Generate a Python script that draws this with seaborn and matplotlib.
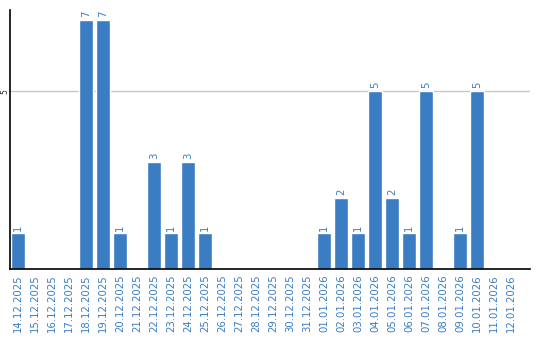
import matplotlib
matplotlib.use("Agg")
import matplotlib.pyplot as plt
import seaborn as sns
import pandas as pd

dates = ["14.12.2025", "15.12.2025", "16.12.2025", "17.12.2025", "18.12.2025",
         "19.12.2025", "20.12.2025", "21.12.2025", "22.12.2025", "23.12.2025",
         "24.12.2025", "25.12.2025", "26.12.2025", "27.12.2025", "28.12.2025",
         "29.12.2025", "30.12.2025", "31.12.2025", "01.01.2026", "02.01.2026",
         "03.01.2026", "04.01.2026", "05.01.2026", "06.01.2026", "07.01.2026",
         "08.01.2026", "09.01.2026", "10.01.2026", "11.01.2026", "12.01.2026"]
values = [1, 0, 0, 0, 7, 7, 1, 0, 3, 1, 3, 1, 0, 0, 0, 0, 0, 0,
          1, 2, 1, 5, 2, 1, 5, 0, 1, 5, 0, 0]

df = pd.DataFrame({"date": dates, "value": values})

sns.set_style("white")
plt.rcParams['font.family'] = ['DejaVu Sans']
blue = "#3a7dc2"

fig = plt.figure(figsize=(5.4, 3.4), dpi=100)
ax = fig.add_axes([10/540, 1-269/340, 520/540, 259/340])
sns.barplot(data=df, x="date", y="value", color=blue, saturation=1, width=0.82, ax=ax)

for i, v in enumerate(values):
    if v > 0:
        ax.text(i, v + 0.08, str(v), rotation=90, ha="center", va="bottom",
                fontsize=7.3, color=blue)

ax.set_xlim(-0.47, 30.1)
ax.set_ylim(0, 7.28)
ax.set_yticks([5])
ax.set_yticklabels(["5"], rotation=90, va="center", fontsize=5.5)
ax.yaxis.grid(True, color="#c8c8c8", linewidth=1)
ax.set_axisbelow(True)
ax.tick_params(axis="y", length=0, pad=0.5)
ax.tick_params(axis="x", length=0, pad=4, labelsize=7.3, labelcolor=blue)
for lab in ax.get_xticklabels():
    lab.set_rotation(90)
ax.set_xlabel("")
ax.set_ylabel("")
for s in ["top", "right"]:
    ax.spines[s].set_visible(False)
for s in ["left", "bottom"]:
    ax.spines[s].set_color("black")
    ax.spines[s].set_linewidth(1.2)

fig.savefig("out.png", dpi=100)
